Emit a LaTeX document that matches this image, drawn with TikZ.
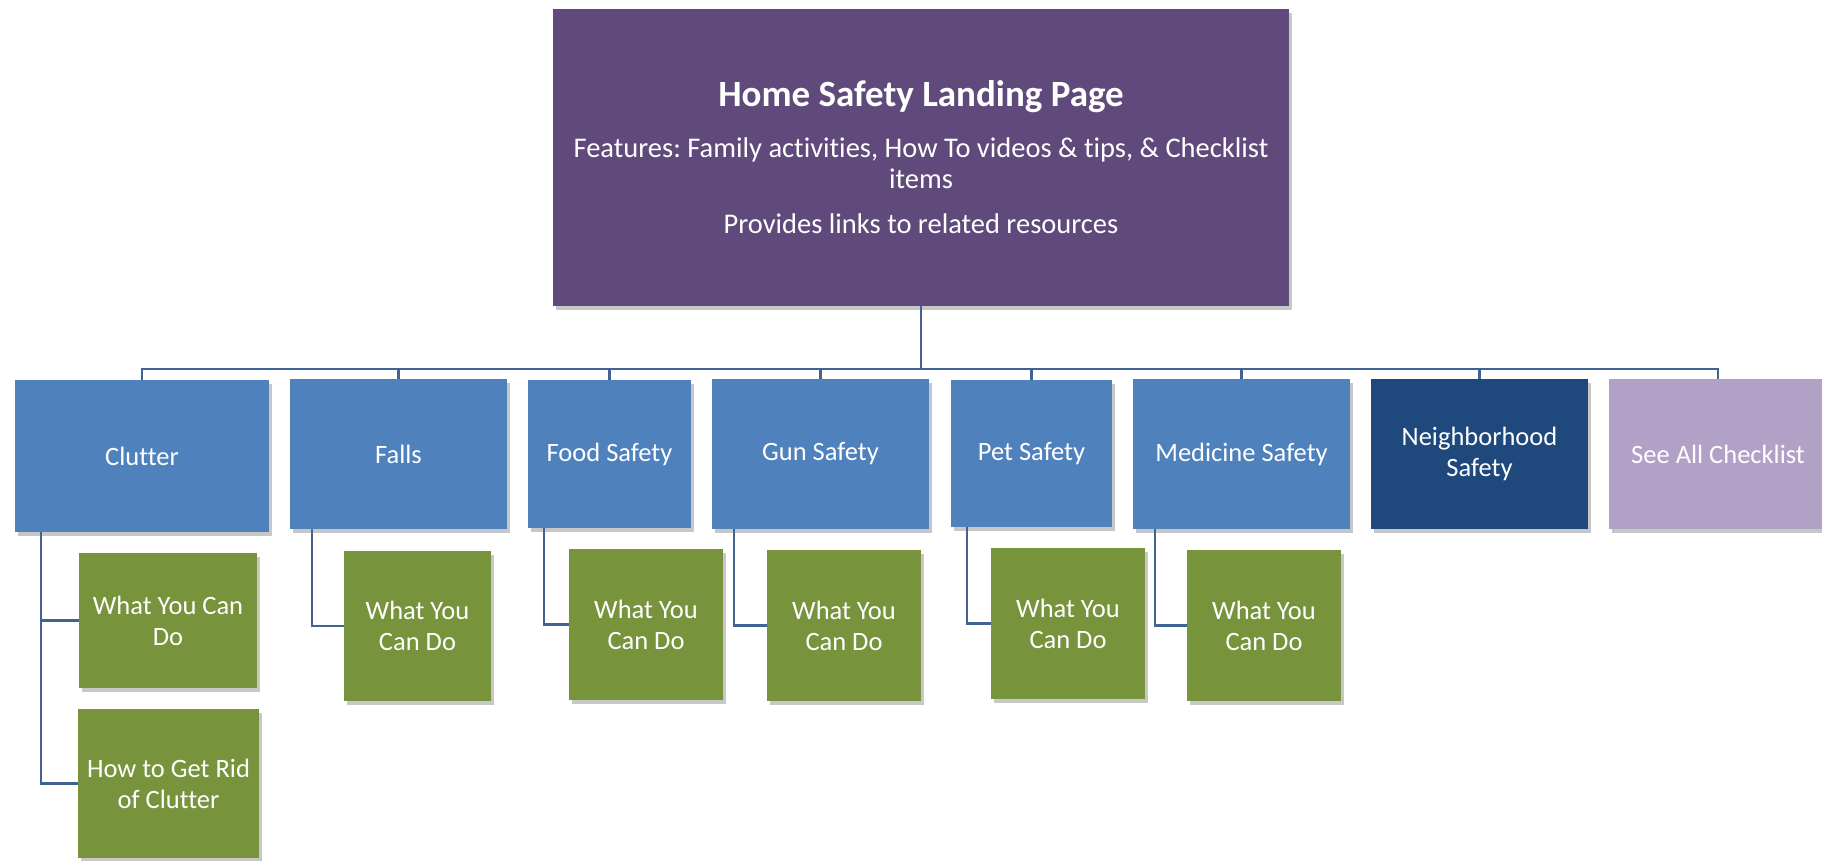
\documentclass[tikz,border=0pt]{standalone}
\usepackage{fontspec}
\setmainfont{Carlito}[Ligatures=NoCommon]
\usetikzlibrary{shadows}
\frenchspacing

\definecolor{homeColor}{RGB}{96,74,123}
\definecolor{topicColor}{RGB}{79,129,189}
\definecolor{hoodColor}{RGB}{31,73,125}
\definecolor{listColor}{RGB}{178,161,199}
\definecolor{tipColor}{RGB}{119,147,60}
\definecolor{lineColor}{RGB}{63,99,146}

\tikzset{
  box/.style={rectangle, inner sep=0pt, text=white, align=center,
    font=\fontsize{26.5}{31}\selectfont,
    drop shadow={shadow xshift=3pt, shadow yshift=-4pt, opacity=0.22, fill=black}},
  topic/.style={box, fill=topicColor},
  tip/.style={box, fill=tipColor},
  conn/.style={draw=lineColor, line width=2.2pt}
}

\begin{document}
\begin{tikzpicture}[x=1pt, y=-1pt]
  \useasboundingbox (0,0) rectangle (1822,860);
  % Landing page
  \node[box, fill=homeColor, minimum width=736, minimum height=297,
        font=\fontsize{28.5}{31}\selectfont] (home) at (921,157.5)
    {{\fontsize{37}{38}\selectfont\bfseries Home Safety Landing Page}\\[20pt]
     Features: Family activities, How To videos \& tips, \& Checklist\\
     items\\[14pt]
     Provides links to related resources};
  % Topics
  \node[topic, minimum width=254, minimum height=152] (clutter) at (142,456) {Clutter};
  \node[topic, minimum width=217, minimum height=150] (falls) at (398.5,454) {Falls};
  \node[topic, minimum width=163, minimum height=148] (food) at (609.5,454) {Food Safety};
  \node[topic, minimum width=217, minimum height=150] (gun) at (820.5,454) {Gun Safety};
  \node[topic, minimum width=161, minimum height=147] (pet) at (1031.5,453.5) {Pet Safety};
  \node[topic, minimum width=217, minimum height=150] (med) at (1241.5,454) {Medicine Safety};
  \node[box, fill=hoodColor, minimum width=217, minimum height=150] (hood) at (1479.5,454) {Neighborhood\\Safety};
  \node[box, fill=listColor, drop shadow={opacity=0}, minimum width=218, minimum height=150] (seeall) at (1718,454) {See All Checklist};
  % What you can do
  \node[tip, minimum width=178, minimum height=135] (clutterA) at (168,620.5) {What You Can\\Do};
  \node[tip, minimum width=181, minimum height=149] (clutterB) at (168.5,783.5) {How to Get Rid\\of Clutter};
  \node[tip, minimum width=147, minimum height=150] (fallsA) at (417.5,626) {What You\\Can Do};
  \node[tip, minimum width=154, minimum height=151] (foodA) at (646,624.5) {What You\\Can Do};
  \node[tip, minimum width=154, minimum height=151] (gunA) at (844,625.5) {What You\\Can Do};
  \node[tip, minimum width=154, minimum height=151] (petA) at (1068,623.5) {What You\\Can Do};
  \node[tip, minimum width=154, minimum height=151] (medA) at (1264,625.5) {What You\\Can Do};
  % Bus
  \coordinate (bus) at (921,369);
  \draw[conn] (home.south) -- (bus);
  \draw[conn] (clutter.north) |- (bus) -| (seeall.north);
  \foreach \t in {falls,food,gun,pet,med,hood}
    \draw[conn] (\t.north) -- (\t.north |- bus);
  % Children
  \draw[conn] ([xshift=26]clutter.south west) |- (clutterA.west);
  \draw[conn] ([xshift=26]clutter.south west) |- (clutterB.west);
  \draw[conn] ([xshift=22]falls.south west) |- (fallsA.west);
  \draw[conn] ([xshift=16]food.south west) |- (foodA.west);
  \draw[conn] ([xshift=22]gun.south west) |- (gunA.west);
  \draw[conn] ([xshift=16]pet.south west) |- (petA.west);
  \draw[conn] ([xshift=22]med.south west) |- (medA.west);
\end{tikzpicture}
\end{document}
